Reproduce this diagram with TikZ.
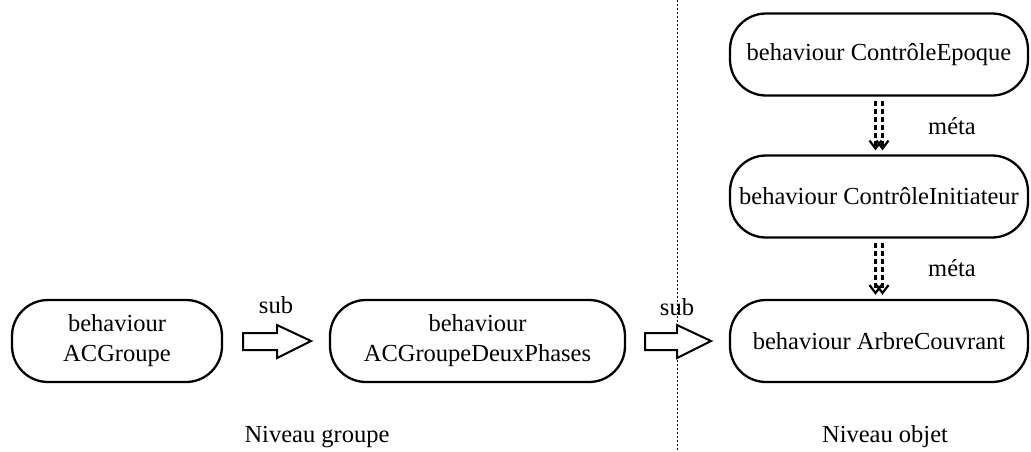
\documentclass[tikz,border=0pt]{standalone}
\usepackage{fontspec}
\setmainfont{Liberation Serif}
\usetikzlibrary{arrows.meta}
\begin{document}
\begin{tikzpicture}[x=1pt,y=-1pt,
  every node/.style={font=\fontsize{24.5}{30}\selectfont},
  behav/.style={draw, line width=2.3pt, rounded corners=36pt, minimum height=82pt, align=center, inner sep=0pt},
  blk/.style={draw, line width=2pt, fill=white, line join=miter},
  metaarrow/.style={line width=2.5pt, dash pattern=on 5pt off 3pt, -{Straight Barb[length=8pt,width=12pt,line width=2.2pt]}},
  sep/.style={line width=1pt, dash pattern=on 2pt off 2pt}]
\useasboundingbox (0,0) rectangle (1031,451);
\draw[sep] (677,0) -- (677,451);
\node[behav, minimum width=210pt] (acg) at (117,341) {behaviour\\ACGroupe};
\node[behav, minimum width=295pt] (dp) at (477.5,341) {behaviour\\ACGroupeDeuxPhases};
\node[behav, minimum width=298pt] (eg) at (879,54.5) {behaviour ContrôleEpoque};
\node[behav, minimum width=298pt] (ci) at (879,196.5) {behaviour ContrôleInitiateur};
\node[behav, minimum width=298pt] (ac) at (879,341) {behaviour ArbreCouvrant};
% block arrows
\draw[blk] (243,333) -- (277,333) -- (277,325) -- (311,341) -- (277,358) -- (277,350) -- (243,350) -- cycle;
\draw[blk] (645,333) -- (677,333) -- (677,325) -- (711,341) -- (677,358) -- (677,350) -- (645,350) -- cycle;
\node (s1) at (276,305) {sub};
\node (s2) at (677,307) {sub};
% meta arrows
\draw[metaarrow] ([xshift=-3.5pt,yshift=-4pt]eg.south) -- ([xshift=-3.5pt,yshift=4pt]ci.north);
\draw[metaarrow] ([xshift=3.5pt,yshift=-4pt]eg.south) -- ([xshift=3.5pt,yshift=4pt]ci.north);
\draw[metaarrow] ([xshift=-3.5pt,yshift=-4pt]ci.south) -- ([xshift=-3.5pt,yshift=4pt]ac.north);
\draw[metaarrow] ([xshift=3.5pt,yshift=-4pt]ci.south) -- ([xshift=3.5pt,yshift=4pt]ac.north);
\node (m1) at (952,126) {méta};
\node (m2) at (952,268) {méta};
\node (lg) at (317,437) {Niveau groupe};
\node (lo) at (885,437) {Niveau objet};
\end{tikzpicture}
\end{document}
